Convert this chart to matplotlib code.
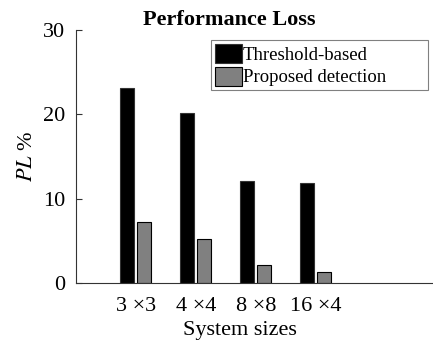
import numpy as np
import matplotlib
matplotlib.use("Agg")
import matplotlib.pyplot as plt

plt.rcParams['font.family'] = ['Liberation Serif', 'DejaVu Serif']
plt.rcParams['mathtext.fontset'] = 'stix'

categories = ['3 ×3', '4 ×4', '8 ×8', '16 ×4']
threshold = [23.1, 20.2, 12.1, 11.9]
proposed = [7.2, 5.2, 2.1, 1.3]

fig = plt.figure(figsize=(4.33, 3.52), dpi=100)
ax = fig.add_axes([0.1755, 0.196, 0.8245, 0.719])

x = np.arange(1, len(categories) + 1)
w = 0.23
ax.bar(x - 0.15, threshold, w, color='black', edgecolor='#333333', linewidth=0.8,
       label='Threshold-based')
ax.bar(x + 0.14, proposed, w, color='#808080', edgecolor='black', linewidth=0.8,
       label='Proposed detection')

ax.set_xlim(0, 5.95)
ax.set_ylim(0, 30)
ax.set_xticks(x)
ax.set_xticklabels(categories, fontsize=16)
ax.set_yticks([0, 10, 20, 30])
ax.tick_params(axis='y', direction='in', length=4, labelsize=16, color='#333333', pad=8)
ax.tick_params(axis='x', length=0, pad=10)
for s in ['top', 'right']:
    ax.spines[s].set_visible(False)
for s in ['left', 'bottom']:
    ax.spines[s].set_color('#333333')
    ax.spines[s].set_linewidth(0.8)

ax.set_title('Performance Loss', fontsize=16, fontweight='bold', pad=2, x=0.43)
ax.set_xlabel('System sizes', fontsize=16, labelpad=4, x=0.46)
ax.set_ylabel('$PL$ %', fontsize=16, labelpad=4)

leg = ax.legend(loc='upper left', bbox_to_anchor=(0.378, 0.96, 0.607, 0), mode='expand',
                fontsize=13.5, fancybox=False, framealpha=1, edgecolor='#808080',
                handlelength=1.45, handleheight=1.2, handletextpad=0.05,
                borderpad=0.2, labelspacing=0.15, borderaxespad=0)
leg.get_frame().set_linewidth(0.8)

fig.savefig('out.png', dpi=100)
